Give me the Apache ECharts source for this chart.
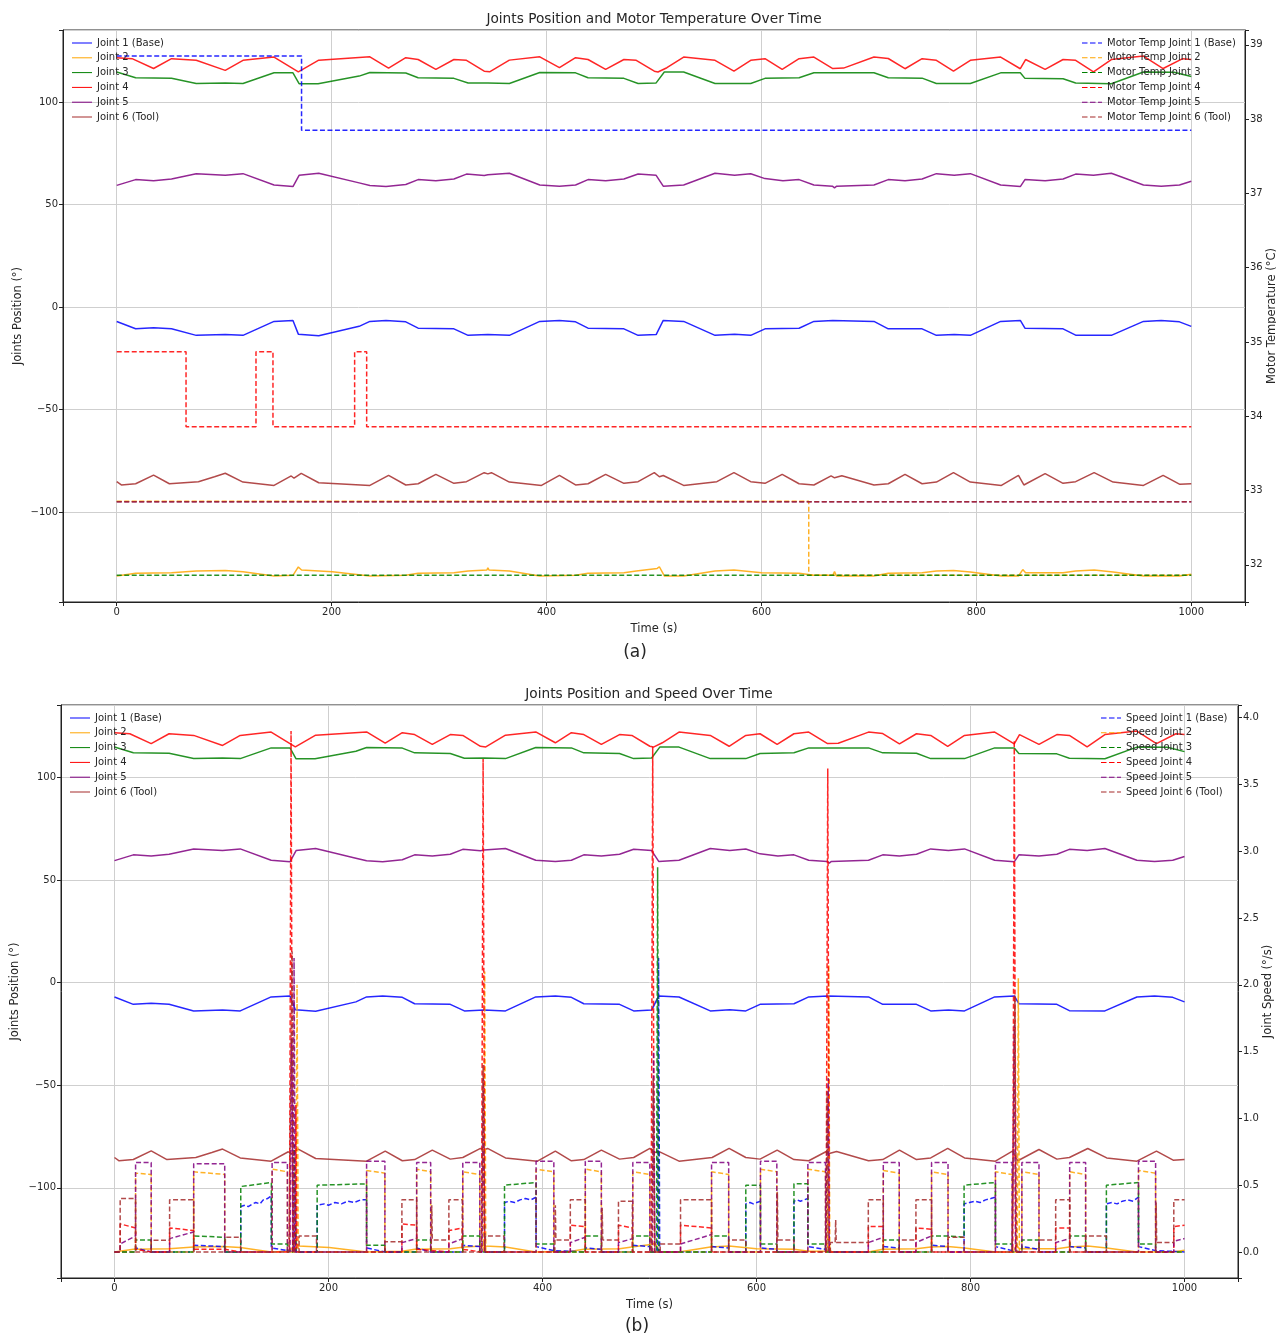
<!DOCTYPE html>
<html><head><meta charset="utf-8">
<script src="https://cdn.jsdelivr.net/npm/echarts@6/dist/echarts.min.js"></script>
<style>html,body{margin:0;padding:0;background:#fff}#c{width:1276px;height:1337px}</style>
</head><body><div id="c"></div>
<script>
const FONT = 'DejaVu Sans';
const TXT = '#262626';

const titleA = 'Joints Position and Motor Temperature Over Time';
const titleB = 'Joints Position and Speed Over Time';
const jointNames = ['Joint 1 (Base)','Joint 2','Joint 3','Joint 4','Joint 5','Joint 6 (Tool)'];
const tempNames = ['Motor Temp Joint 1 (Base)','Motor Temp Joint 2','Motor Temp Joint 3','Motor Temp Joint 4','Motor Temp Joint 5','Motor Temp Joint 6 (Tool)'];
const speedNames = ['Speed Joint 1 (Base)','Speed Joint 2','Speed Joint 3','Speed Joint 4','Speed Joint 5','Speed Joint 6 (Tool)'];
const colors = ['#0000ff','#ffa500','#008000','#ff0000','#800080','#a52a2a'];

// Joint positions (deg) as [time s, value]
const joint1 = [[0,-7.0],[17.6,-10.6],[34.3,-10.1],[51,-10.6],[74,-13.8],[101,-13.4],[117.5,-13.8],[146.4,-7.0],[164,-6.5],[169,-13.2],[188,-14.0],[225.6,-9.4],[235.6,-7.0],[250.6,-6.5],[269,-7.2],[280.5,-10.3],[313.8,-10.6],[327,-13.8],[345.4,-13.4],[365.4,-13.8],[393.7,-7.0],[412,-6.5],[427,-7.2],[438.6,-10.3],[472,-10.6],[485.2,-13.8],[502,-13.4],[508.6,-6.5],[527.6,-7.0],[556.8,-13.8],[575,-13.2],[590,-13.8],[603.3,-10.6],[635,-10.3],[648.8,-7.0],[666.4,-6.5],[704.7,-7.0],[718,-10.6],[749.5,-10.6],[762.8,-13.8],[779.4,-13.4],[794.4,-13.8],[822.6,-7.0],[840.9,-6.5],[845.2,-10.3],[880.7,-10.6],[892.4,-13.7],[925.6,-13.8],[955.5,-7.0],[972,-6.5],[989,-7.2],[1000,-9.4]];
const joint2 = [[0,-131.2],[17.6,-129.9],[51,-129.6],[74,-128.8],[101,-128.5],[117.5,-129.1],[146.4,-131.2],[164,-130.9],[169,-126.8],[172,-128.3],[200.7,-129.1],[235.6,-131.2],[269,-130.9],[280.5,-129.9],[313.8,-129.6],[327,-128.8],[344.5,-128.3],[345.4,-127.2],[346.5,-128.3],[365.4,-128.8],[393.7,-131.2],[427,-130.9],[438.6,-129.9],[472,-129.6],[483.5,-128.8],[503,-127.5],[505,-126.7],[509.6,-131.2],[527.6,-131.2],[556.8,-128.8],[574.4,-128.3],[600,-129.6],[635,-129.9],[648.8,-130.9],[666.4,-130.9],[668,-129.1],[669.8,-131.2],[704.7,-131.2],[718,-129.9],[749.5,-129.6],[762.8,-128.8],[778.7,-128.5],[794.4,-129.3],[823.3,-131.2],[839.2,-131.2],[843.2,-128.1],[845.8,-129.6],[880.7,-129.6],[892.4,-128.8],[909.6,-128.3],[927.3,-129.3],[955.5,-131.2],[989,-131.2],[1000,-130.4]];
const joint3 = [[0,114.7],[17.6,111.9],[51,111.7],[74,109.1],[101,109.4],[117.5,109.1],[146.4,114.3],[164,114.3],[169.7,109.0],[187.4,109.0],[225.6,112.7],[235.6,114.5],[269,114.2],[280.5,111.9],[313.8,111.6],[327,109.3],[345.4,109.4],[347,108.6],[365.4,109.1],[393.7,114.5],[427,114.3],[438.6,111.9],[472,111.6],[485.2,109.1],[502,109.4],[503.7,108.6],[509.6,114.7],[527.6,114.7],[556.8,109.1],[590,109.1],[603.3,111.6],[635,111.9],[648.8,114.3],[666.4,114.3],[668,113.4],[670,114.3],[704.7,114.3],[718,111.9],[749.5,111.7],[762.8,109.1],[794.4,109.1],[822.6,114.3],[840.9,114.3],[845.2,111.6],[880.7,111.4],[892.4,109.3],[925.6,109.0],[955.5,114.7],[984,114.6],[1000,112.5]];
const joint4 = [[0,121.7],[14.3,121.2],[34.3,116.4],[51,121.2],[74,120.4],[101,115.5],[117.5,120.4],[146.4,122.0],[169,114.8],[188,120.5],[235.6,122.1],[253,116.6],[269,121.7],[280.5,120.8],[297,116.0],[313.8,120.8],[325.5,120.4],[342,115.1],[347,114.8],[365.4,120.5],[393.7,122.1],[412,116.8],[427,121.7],[438.6,120.8],[455,116.0],[472,120.8],[483.5,120.4],[500.3,115.1],[503.7,114.7],[512,116.8],[527.6,122.0],[556.8,120.4],[574.4,115.1],[590,120.4],[603.3,121.2],[619.3,116.0],[635,121.2],[648.8,122.0],[666.4,116.4],[676.4,116.6],[704.7,122.0],[718,121.3],[733.6,116.3],[749.5,121.2],[762.8,120.4],[778.7,115.1],[794.4,120.4],[822.6,122.0],[840.9,116.3],[845.8,120.8],[864,116.0],[880.7,120.8],[892.4,120.4],[909,114.8],[925.6,120.8],[955.5,122.5],[973.8,116.4],[992,121.2],[1000,120.8]];
const joint5 = [[0,59.4],[17.6,62.2],[34.3,61.7],[51,62.5],[74,65.1],[101,64.3],[117.5,65.1],[146.4,59.6],[164,58.8],[169.7,64.3],[188,65.3],[225.6,60.6],[235.6,59.3],[250.6,58.8],[269,59.8],[280.5,62.2],[297,61.7],[313.8,62.5],[325.5,64.9],[342,64.2],[345.4,64.6],[365.4,65.3],[393.7,59.6],[412,59.0],[427,59.6],[438.6,62.2],[455,61.7],[472,62.5],[485.2,64.9],[502,64.3],[508.6,59.0],[527.6,59.6],[556.8,65.3],[575,64.3],[590,65.1],[603.3,62.7],[620,61.7],[635,62.2],[648.8,59.6],[666,59.0],[668,58.2],[670,59.0],[704.7,59.6],[718,62.2],[733.6,61.7],[749.5,62.5],[762.8,65.1],[779.4,64.3],[794.4,65.1],[822.6,59.6],[840.9,58.8],[845.2,62.2],[864,61.6],[880.7,62.5],[892.4,64.9],[909,64.3],[925.6,65.3],[955.5,59.6],[972,59.0],[989,59.6],[1000,61.4]];
const joint6 = [[0,-85.2],[4.3,-86.8],[17.6,-86.2],[34.3,-82.0],[49,-86.2],[76,-85.2],[91,-82.8],[101,-81.1],[117.5,-85.4],[146.4,-87.0],[162.4,-82.4],[165,-83.5],[171.7,-81.1],[188,-85.7],[235.6,-87.0],[253,-82.1],[269,-86.8],[280.5,-86.2],[297,-81.6],[313.8,-86.0],[325.5,-85.2],[342,-80.8],[345.4,-81.4],[348.7,-80.8],[365.4,-85.4],[395.3,-87.0],[412,-82.1],[427,-86.8],[438.6,-86.2],[455,-81.6],[472,-86.0],[485.2,-85.2],[500.3,-80.8],[505,-82.8],[508.6,-82.2],[527.6,-87.0],[558.5,-85.2],[574.4,-80.8],[590,-85.2],[603.3,-86.0],[619.3,-81.6],[635,-86.2],[648.8,-86.8],[664.8,-82.4],[668,-83.3],[674.8,-82.3],[704.7,-86.8],[718,-86.2],[733.6,-81.6],[749.5,-86.2],[762.8,-85.4],[778.7,-80.8],[794.4,-85.4],[823.3,-87.0],[839.2,-82.1],[844.2,-86.8],[864,-81.3],[880.7,-86.0],[892.4,-85.2],[909.6,-80.8],[927.3,-85.4],[955.5,-87.0],[973.8,-82.1],[989.4,-86.5],[1000,-86.2]];

// Motor temperatures (deg C)
const temp1 = [[0,38.85],[172,38.85],[172,37.85],[1000,37.85]];
const temp2 = [[0,32.855],[644,32.855],[644,31.86],[1000,31.86]];
const temp3 = [[0,31.86],[1000,31.86]];
const temp4 = [[0,34.87],[64.5,34.87],[64.5,33.86],[129.6,33.86],[129.6,34.87],[145.4,34.87],[145.4,33.86],[221.4,33.86],[221.4,34.87],[232.6,34.87],[232.6,33.86],[1000,33.86]];
const temp5 = [[0,32.85],[1000,32.85]];
const temp6 = [[0,32.85],[1000,32.85]];

// Joint speeds (deg/s)
const speed1 = [[0,0],[19.7,0],[19.7,0.03],[34.3,0.0],[74,0],[74,0.05],[103,0.04],[103,0],[118,0],[118,0.34],[122,0.35],[125,0.34],[129,0.36],[132,0.37],[136,0.36],[139,0.39],[143,0.4],[146.6,0.42],[146.6,0.03],[161.6,0.01],[161.6,0],[168,0],[169,0.5],[170,0],[189.4,0],[189.4,0.35],[196,0.36],[200,0.35],[206,0.37],[212,0.36],[218,0.38],[224,0.37],[230,0.39],[235.6,0.39],[235.6,0.03],[252.7,0],[282.4,0],[282.4,0.03],[295.5,0],[325.5,0],[325.5,0.05],[341.4,0.04],[341.4,0],[364.5,0],[364.5,0.37],[369,0.38],[374,0.37],[379,0.39],[384,0.4],[389,0.39],[394,0.41],[394,0.04],[410.6,0.01],[410.6,0],[440,0],[440,0.03],[455,0.02],[455,0],[484.4,0],[484.4,0.05],[500.3,0.04],[500.3,0],[507.5,0],[508.5,2.2],[509.5,0],[558,0],[558,0.04],[574,0.03],[574,0],[590,0],[590,0.36],[594,0.37],[597,0.36],[603.7,0.38],[603.7,0.03],[619,0.02],[619,0],[635,0],[635,0.38],[638,0.39],[641,0.38],[648,0.4],[648,0.04],[664.5,0.02],[664.5,0],[718.5,0],[718.5,0.04],[733.4,0.03],[733.4,0],[763.6,0],[763.6,0.05],[779,0.04],[779,0],[794,0],[794,0.36],[799,0.37],[804,0.38],[809,0.37],[814,0.39],[819,0.4],[823.3,0.41],[823.3,0.04],[838.9,0.01],[838.9,0],[848,0],[848,0.04],[864,0.02],[864,0],[892.7,0],[892.7,0.04],[907.6,0.03],[907.6,0],[927,0],[927,0.36],[932,0.37],[937,0.36],[942,0.38],[947,0.39],[952,0.38],[957,0.41],[957,0.04],[973,0.01],[973,0],[1000,0]];
const speed2 = [[0,0],[19.7,0],[19.7,0.59],[34.3,0.58],[34.3,0],[74,0],[74,0.6],[103,0.58],[103,0],[147.3,0],[147.3,0.62],[161.6,0.6],[161.6,0],[169.5,0],[170.6,2.0],[171.7,0],[235.6,0],[235.6,0.61],[252.7,0.59],[252.7,0],[282.4,0],[282.4,0.62],[295.5,0.6],[295.5,0],[325.5,0],[325.5,0.6],[341.4,0.58],[341.4,0],[345,0],[346,2.1],[347,0],[394,0],[394,0.62],[410.6,0.6],[410.6,0],[440,0],[440,0.62],[455,0.6],[455,0],[484.4,0],[484.4,0.6],[500.3,0.58],[500.3,0],[558,0],[558,0.6],[574,0.58],[574,0],[603.7,0],[603.7,0.62],[619,0.6],[619,0],[648,0],[648,0.62],[664.5,0.6],[664.5,0],[666.5,0],[667.5,2.15],[668.5,0],[718.5,0],[718.5,0.61],[733.4,0.59],[733.4,0],[763.6,0],[763.6,0.6],[779,0.58],[779,0],[823.3,0],[823.3,0.6],[838.9,0.58],[838.9,0],[843.7,0],[844.7,2.05],[845.7,0],[848,0],[848,0.6],[864,0.58],[864,0],[892.7,0],[892.7,0.6],[907.6,0.58],[907.6,0],[957,0],[957,0.61],[973,0.59],[973,0],[1000,0]];
const speed3 = [[0,0],[19.7,0],[19.7,0.09],[34.3,0.09],[34.3,0],[74,0],[74,0.12],[103,0.11],[103,0],[118,0],[118,0.49],[146.6,0.52],[146.6,0.06],[161.6,0.06],[161.6,0],[166.5,0],[168,0.8],[169.5,0],[189.4,0],[189.4,0.5],[235.6,0.51],[235.6,0.05],[252.7,0.05],[252.7,0],[282.4,0],[282.4,0.09],[295.5,0.09],[295.5,0],[325.5,0],[325.5,0.12],[341.4,0.12],[341.4,0],[364.5,0],[364.5,0.5],[394,0.52],[394,0.06],[410.6,0.06],[410.6,0],[440,0],[440,0.12],[455,0.12],[455,0],[484.4,0],[484.4,0.12],[500.3,0.12],[500.3,0],[506.5,0],[507.6,2.88],[508.6,0],[558,0],[558,0.12],[574,0.12],[574,0],[590,0],[590,0.5],[603.7,0.5],[603.7,0.06],[619,0.06],[619,0],[635,0],[635,0.51],[648,0.51],[648,0.06],[664.5,0.06],[664.5,0],[718.5,0],[718.5,0.09],[733.4,0.09],[733.4,0],[763.6,0],[763.6,0.12],[779,0.12],[779,0.11],[794,0.11],[794,0.5],[823.3,0.52],[823.3,0.06],[838.9,0.06],[838.9,0],[848,0],[848,0.09],[864,0.09],[864,0],[892.7,0],[892.7,0.12],[907.6,0.12],[907.6,0],[927,0],[927,0.5],[957,0.52],[957,0.06],[973,0.06],[973,0],[1000,0]];
const speed4 = [[0,0],[5.3,0],[5.3,0.21],[19.7,0.18],[19.7,0.02],[34.3,0.0],[51.5,0],[51.5,0.18],[74,0.16],[74,0.02],[103,0.02],[118,0],[163.5,0],[165,3.9],[166.5,0],[168.5,0],[169.5,1.1],[170.5,0],[268.6,0],[268.6,0.21],[282.4,0.2],[282.4,0.02],[312.5,0],[312.5,0.16],[325,0.18],[325,0.02],[343,0],[344.5,3.69],[346,0],[426,0],[426,0.2],[440,0.19],[440,0],[471,0],[471,0.2],[484,0.18],[484,0],[501.5,0],[503,3.78],[504.5,0],[529,0],[529,0.2],[558,0.18],[558,0],[665,0],[666.6,3.62],[668,0],[704.5,0],[704.5,0.19],[718.5,0.19],[718.5,0],[749,0],[749,0.18],[763.6,0.17],[763.6,0],[839.5,0],[840.9,3.83],[842.3,0],[879.6,0],[879.6,0.18],[892.7,0.18],[892.7,0],[990,0],[990,0.19],[1000,0.2]];
const speed5 = [[0,0],[5.3,0],[5.3,0.06],[19.7,0.12],[19.7,0.67],[34.3,0.67],[34.3,0],[51.5,0],[51.5,0.1],[74,0.15],[74,0.66],[103,0.66],[103,0],[147.3,0],[147.3,0.67],[161.6,0.67],[161.6,0],[164,0],[165.5,1.6],[167,0],[167.8,2.2],[169,0],[235.6,0],[235.6,0.68],[252.7,0.68],[252.7,0],[268.6,0],[268.6,0.07],[282.4,0.1],[282.4,0.67],[295.5,0.67],[295.5,0],[312.5,0],[312.5,0.06],[325.5,0.1],[325.5,0.67],[341.4,0.67],[341.4,0],[343.5,0],[344.7,1.3],[346,0],[394,0],[394,0.68],[410.6,0.68],[410.6,0],[426,0],[426,0.07],[440,0.11],[440,0.68],[455,0.68],[455,0],[471,0],[471,0.07],[484.4,0.1],[484.4,0.67],[500.3,0.67],[500.3,0],[502.5,0],[503.8,1.5],[505,0],[529,0],[529,0.06],[558,0.13],[558,0.67],[574,0.67],[574,0],[603.7,0],[603.7,0.68],[619,0.68],[619,0],[648,0],[648,0.67],[664.5,0.67],[664.5,0],[666,0],[667,1.3],[668,0],[704.5,0],[704.5,0.07],[718.5,0.11],[718.5,0.67],[733.4,0.67],[733.4,0],[749,0],[749,0.07],[763.6,0.12],[763.6,0.67],[779,0.67],[779,0],[823.3,0],[823.3,0.67],[838.9,0.67],[838.9,0],[840,0],[841,1.7],[842,0],[848,0],[848,0.67],[864,0.67],[864,0],[879.6,0],[879.6,0.07],[892.7,0.1],[892.7,0.67],[907.6,0.67],[907.6,0],[957,0],[957,0.68],[973,0.68],[973,0],[990,0],[990,0.08],[1000,0.1]];
const speed6 = [[0,0],[5.3,0],[5.3,0.40],[19.7,0.40],[19.7,0],[34.3,0],[34.3,0.087],[51.5,0.087],[51.5,0.39],[74,0.39],[74,0],[103.6,0],[103.6,0.11],[117.9,0.11],[117.9,0],[163,0],[166,2.25],[167.5,0],[172.5,0],[172.5,0.12],[188.8,0.12],[188.8,0],[252.7,0],[252.7,0.077],[268.6,0.077],[268.6,0.39],[282.4,0.39],[282.4,0],[296,0],[296.5,0.35],[297,0.09],[312.5,0.09],[312.5,0.39],[325,0.39],[325,0],[343,0],[344.5,1.4],[346,0],[346.7,0],[346.7,0.12],[364,0.12],[364,0],[411.5,0],[412,0.35],[412.5,0.09],[426,0.09],[426,0.39],[440,0.39],[440,0],[455.3,0],[455.8,0.33],[456.3,0.09],[471,0.09],[471,0.38],[484,0.38],[484,0],[502,0],[503.5,1.3],[505,0],[510,0],[510,0.06],[529,0.06],[529,0.39],[558,0.39],[558,0],[574,0],[574,0.09],[590,0.09],[590,0],[619,0],[619.5,0.45],[620,0.09],[635,0.09],[635,0],[665,0],[666,1.2],[667,0],[669,0],[669,0.07],[673.5,0.07],[674,0.24],[674.5,0.07],[704.5,0.07],[704.5,0.39],[718.5,0.39],[718.5,0],[733.4,0],[733.4,0.09],[749,0.09],[749,0.39],[763.6,0.39],[763.6,0],[779,0],[779,0.11],[794,0.11],[794,0],[839,0],[841.5,1.92],[843,0],[864,0],[864,0.09],[879.6,0.09],[879.6,0.39],[892.7,0.39],[892.7,0],[907.6,0],[907.6,0.12],[927,0.12],[927,0],[973,0],[973.5,0.37],[974,0.07],[990,0.07],[990,0.39],[1000,0.39]];

const joints = [joint1, joint2, joint3, joint4, joint5, joint6];
const temps = [temp1, temp2, temp3, temp4, temp5, temp6];
const speeds = [speed1, speed2, speed3, speed4, speed5, speed6];

const ICON_SOLID = 'path://M0,0H20V1H0Z';
const ICON_DASH = 'path://M0,0H5.5V1H0Z M8,0H13.5V1H8Z M16,0H20V1H16Z';

function minus(s){ return String(s).replace('-', '\u2212'); }
function series(name, data, color, xi, yi, dashed){
  return {type:'line', name, data, xAxisIndex:xi, yAxisIndex:yi, symbol:'none', showSymbol:false,
    animation:false, silent:true, clip:true, color,
    lineStyle:{color, width:1.5, type: dashed ? [5,2.5] : 'solid', opacity:0.85},
    itemStyle:{color}, emphasis:{disabled:true}};
}
const S = [];
jointNames.forEach((n,i)=>S.push(series(n, joints[i], colors[i], 0, 0, false)));
tempNames.forEach((n,i)=>S.push(series(n, temps[i], colors[i], 0, 1, true)));
jointNames.forEach((n,i)=>S.push(series(n, joints[i], colors[i], 1, 2, false)));
speedNames.forEach((n,i)=>S.push(series(n, speeds[i], colors[i], 1, 3, true)));

const lbl = {fontFamily:FONT, fontSize:10, color:TXT};
const nameStyle = {fontFamily:FONT, fontSize:11.5, color:TXT};
const gridLine = {show:true, lineStyle:{color:'#cfcfcf', width:1}};
const axLine = {show:true, onZero:false, lineStyle:{color:'#222', width:1}};
const tick = {show:true, length:4, lineStyle:{color:'#222'}};
function step(v, s){ return Math.abs(v/s - Math.round(v/s)) < 1e-6; }

function xAx(gi){
  return {type:'value', gridIndex:gi, min:-50, max:1050, splitNumber:5, name:'Time (s)', nameLocation:'middle', nameGap:21,
    nameTextStyle:nameStyle, axisLine:axLine, axisTick:tick, splitLine:gridLine,
    axisLabel:Object.assign({margin:5, showMinLabel:true, showMaxLabel:true, formatter:v=>step(v,200)?minus(v):''}, lbl)};
}
function yLeft(gi, gap){
  return {type:'value', gridIndex:gi, position:'left', min:-143.9, max:135.2, splitNumber:5, name:'Joints Position (°)',
    nameLocation:'middle', nameGap:gap, nameMoveOverlap:false, nameTextStyle:nameStyle, axisLine:axLine, axisTick:tick, splitLine:gridLine,
    axisLabel:Object.assign({margin:5, showMinLabel:true, showMaxLabel:true, formatter:v=>step(v,50)?minus(v):''}, lbl)};
}
function legendOf(names, dashed, left, top){
  return {data:names.map(n=>({name:n, icon: dashed ? ICON_DASH : ICON_SOLID})), left, top, orient:'vertical',
    itemWidth:20, itemHeight:2, itemGap:4.8, padding:0, selectedMode:false,
    textStyle:Object.assign({lineHeight:10},lbl)};
}

const option = {
  backgroundColor:'#fff',
  animation:false,
  grid:[
    {left:63, top:30, width:1182, height:572, show:true, borderColor:'#222', borderWidth:1, backgroundColor:'transparent', outerBoundsMode:'none', containLabel:false},
    {left:61, top:705, width:1177, height:573, show:true, borderColor:'#222', borderWidth:1, backgroundColor:'transparent', outerBoundsMode:'none', containLabel:false}
  ],
  xAxis:[xAx(0), xAx(1)],
  yAxis:[
    yLeft(0, 39),
    {type:'value', gridIndex:0, position:'right', min:31.5, max:39.2, splitNumber:8, name:'Motor Temperature (°C)',
      nameLocation:'middle', nameGap:21, nameMoveOverlap:false, nameTextStyle:nameStyle, axisLine:axLine, axisTick:tick, splitLine:{show:false},
      axisLabel:Object.assign({margin:5, showMinLabel:true, showMaxLabel:true, formatter:v=>step(v,1)?String(v):''}, lbl)},
    yLeft(1, 40),
    {type:'value', gridIndex:1, position:'right', min:-0.195, max:4.095, splitNumber:8, name:'Joint Speed (°/s)',
      nameLocation:'middle', nameGap:24, nameMoveOverlap:false, nameTextStyle:nameStyle, axisLine:axLine, axisTick:tick, splitLine:{show:false},
      axisLabel:Object.assign({margin:5, showMinLabel:true, showMaxLabel:true, formatter:v=>step(v,0.5)?Number(v).toFixed(1):''}, lbl)}
  ],
  legend:[
    legendOf(jointNames, false, 72, 38),
    legendOf(tempNames, true, 1082, 38),
    legendOf(jointNames, false, 70, 713),
    legendOf(speedNames, true, 1101, 713)
  ],
  graphic:[
    {type:'text', x:654, y:19, style:{text:titleA, font:'13.7px "DejaVu Sans"', fill:TXT, textAlign:'center', textVerticalAlign:'middle'}},
    {type:'text', x:649, y:694, style:{text:titleB, font:'13.7px "DejaVu Sans"', fill:TXT, textAlign:'center', textVerticalAlign:'middle'}},
    {type:'text', x:635, y:653, style:{text:'(a)', font:'17px "DejaVu Sans"', fill:TXT, textAlign:'center', textVerticalAlign:'middle'}},
    {type:'text', x:637, y:1327, style:{text:'(b)', font:'17px "DejaVu Sans"', fill:TXT, textAlign:'center', textVerticalAlign:'middle'}}
  ],
  series:S
};
const chart = echarts.init(document.getElementById('c'), null, {renderer:'canvas'});
chart.setOption(option);
</script>
</body></html>
